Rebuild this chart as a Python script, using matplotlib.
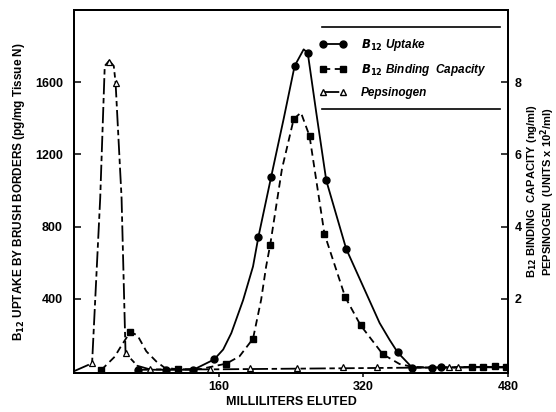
import matplotlib
matplotlib.use("Agg")
import matplotlib.pyplot as plt
from matplotlib.lines import Line2D

plt.rcParams['font.family'] = ['Liberation Sans', 'DejaVu Sans']
plt.rcParams['font.weight'] = 'bold'
plt.rcParams['mathtext.default'] = 'bf'

# B12 uptake (left axis, pg/mg tissue N) - measured points
uptake_ml = [71, 102, 132, 155, 204, 218, 244, 258.5, 279, 301, 358, 374, 396, 406]
uptake_val = [8, 8, 8, 65, 745, 1075, 1690, 1763, 1056, 678, 104, 20, 20, 25]
# hand-drawn curve through the uptake points
uptake_curve_ml = [71, 102, 132, 155, 165, 174, 187, 198, 204, 218, 232, 244, 254, 258.5,
                   268, 279, 301, 319, 338, 349, 358, 374, 396, 420, 450, 480]
uptake_curve_val = [8, 8, 8, 65, 120, 211, 393, 580, 745, 1075, 1400, 1690, 1782, 1763,
                    1430, 1056, 678, 478, 267, 174, 104, 20, 20, 20, 22, 20]

# B12 binding capacity (right axis, ng/ml)
binding_ml = [30, 62, 115, 168.5, 198, 217, 243, 260.5, 277, 300, 317, 341.5, 440, 452, 466, 478]
binding_val = [0.03, 1.08, 0.05, 0.21, 0.9, 3.5, 6.98, 6.51, 3.80, 2.05, 1.27, 0.47,
               0.12, 0.12, 0.15, 0.12]
binding_curve_ml = [30, 45, 51, 62, 70, 80, 91, 100, 115, 140, 168.5, 183, 198, 207, 212.5,
                    217, 230, 243, 251, 260.5, 277, 300, 317, 341.5, 360, 374, 400, 440, 478]
binding_curve_val = [0.03, 0.4, 0.65, 1.08, 1.0, 0.55, 0.27, 0.1, 0.05, 0.06, 0.21, 0.41,
                     0.9, 1.98, 2.9, 3.5, 5.6, 6.98, 7.16, 6.51, 3.80, 2.05, 1.27, 0.47, 0.2,
                     0.12, 0.1, 0.12, 0.12]

# Pepsinogen (right axis, units x 10^2/ml)
pepsin_ml = [20, 39, 46, 57, 84, 150, 195, 247, 297, 335, 415, 425]
pepsin_val = [0.22, 8.57, 7.98, 0.5, 0.05, 0.05, 0.1, 0.1, 0.12, 0.12, 0.12, 0.12]
pepsin_curve_ml = [0, 20, 29, 34, 39, 44, 46, 52.6, 57, 70, 84, 150, 480]
pepsin_curve_val = [0, 0.22, 4.8, 8.45, 8.6, 8.45, 7.98, 4.8, 0.5, 0.15, 0.05, 0.05, 0.12]

fig = plt.figure(figsize=(5.56, 4.12), dpi=100)
ax = fig.add_axes([74 / 556, 39 / 412, 434 / 556, 363 / 412])
ax2 = ax.twinx()

lw = 1.3
ax.plot(uptake_curve_ml, uptake_curve_val, color='k', lw=lw)
ax.plot(uptake_ml, uptake_val, 'o', color='k', ms=5)

ax2.plot(binding_curve_ml, binding_curve_val, color='k', lw=lw, dashes=(4, 2.5))
ax2.plot(binding_ml, binding_val, 's', color='k', ms=4.5)

ax2.plot(pepsin_curve_ml, pepsin_curve_val, color='k', lw=lw, dashes=(9, 2, 3, 2))
ax2.plot(pepsin_ml, pepsin_val, '^', mfc='white', mec='k', mew=0.9, ms=4.5)

ax.set_xlim(0, 480)
ax.set_ylim(-10, 2000)
ax2.set_ylim(-0.05, 10)

ax.set_xticks([160, 320, 480])
ax.set_yticks([400, 800, 1200, 1600])
ax2.set_yticks([2, 4, 6, 8])
ax.tick_params(axis='y', direction='in', length=5, width=1.1, labelsize=9, pad=8)
ax.tick_params(axis='x', direction='out', length=3, width=1.1, labelsize=9, pad=3)
ax2.tick_params(axis='y', direction='in', length=5, width=1.1, labelsize=9, pad=5)
for a in (ax, ax2):
    for s in a.spines.values():
        s.set_linewidth(1.4)

ax.set_xlabel('MILLILITERS ELUTED', fontsize=9, fontweight='bold', labelpad=2)
ax.set_ylabel('B$_{12}$ UPTAKE BY BRUSH BORDERS (pg/mg Tissue N)', fontsize=8.5,
              fontweight='bold', labelpad=6)
ax2.set_ylabel('B$_{12}$ BINDING  CAPACITY (ng/ml)\nPEPSINOGEN  (UNITS x 10$^{2}$/ml)',
               fontsize=8, fontweight='bold', labelpad=2, linespacing=1.0)

# legend framed by two rules above and below
handles = [
    Line2D([], [], color='k', lw=lw, marker='o', ms=5),
    Line2D([], [], color='k', lw=lw, dashes=(4, 2.5), marker='s', ms=4.5),
    Line2D([], [], color='k', lw=lw, dashes=(9, 2, 3, 2), marker='^', mfc='white', ms=4.5),
]
labels = ['$\\mathbfit{B}_{12}$ Uptake', '$\\mathbfit{B}_{12}$ Binding  Capacity', 'Pepsinogen']
leg = ax2.legend(handles, labels, loc='upper left', bbox_to_anchor=(0.565, 0.925),
                 frameon=False, borderpad=0, borderaxespad=0, handlelength=2.3,
                 labelspacing=0.75, handletextpad=1.2, numpoints=2,
                 prop={'style': 'italic', 'weight': 'bold', 'size': 8.5})
for y in (0.953, 0.727):
    ax2.plot([0.571, 0.982], [y, y], transform=ax2.transAxes, color='k', lw=1.2,
             clip_on=False)

fig.savefig('out.png', dpi=100)
